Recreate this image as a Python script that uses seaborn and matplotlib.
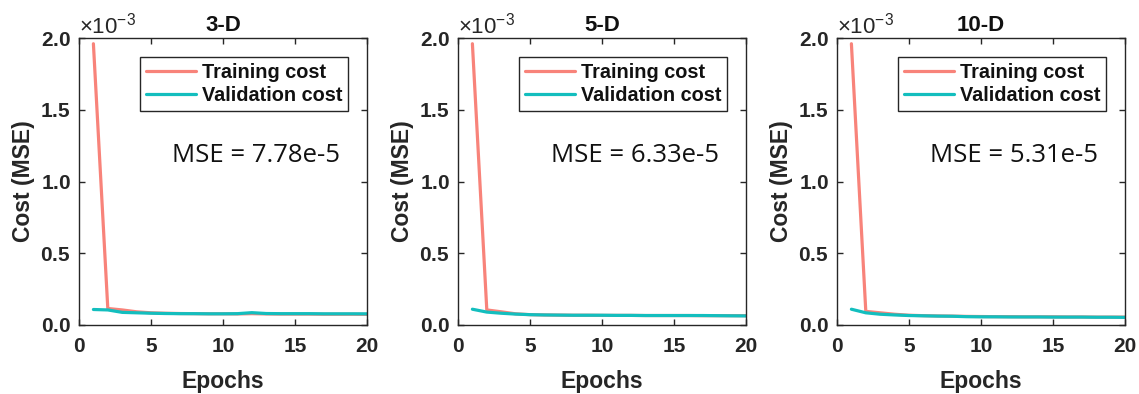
import numpy as np
import pandas as pd
import matplotlib
matplotlib.use("Agg")
import matplotlib.pyplot as plt
from matplotlib.ticker import ScalarFormatter
import seaborn as sns

# Cost values per epoch, in units of 1e-3
epochs = list(range(1, 21))
panel_titles = ["3-D", "5-D", "10-D"]
mse_labels = ["MSE = 7.78e-5", "MSE = 6.33e-5", "MSE = 5.31e-5"]

train_3d = [1.96, 0.115, 0.105, 0.092, 0.085, 0.082, 0.080, 0.079, 0.078, 0.078,
            0.077, 0.079, 0.077, 0.076, 0.076, 0.076, 0.075, 0.075, 0.075, 0.074]
valid_3d = [0.108, 0.105, 0.088, 0.085, 0.082, 0.080, 0.079, 0.079, 0.078, 0.078,
            0.079, 0.086, 0.080, 0.079, 0.079, 0.079, 0.078, 0.078, 0.078, 0.0778]

train_5d = [1.96, 0.105, 0.092, 0.078, 0.072, 0.070, 0.069, 0.068, 0.068, 0.067,
            0.067, 0.067, 0.066, 0.066, 0.066, 0.066, 0.065, 0.065, 0.065, 0.065]
valid_5d = [0.110, 0.090, 0.082, 0.076, 0.072, 0.070, 0.069, 0.068, 0.068, 0.068,
            0.067, 0.067, 0.066, 0.066, 0.066, 0.066, 0.066, 0.065, 0.064, 0.0633]

train_10d = [1.96, 0.095, 0.085, 0.075, 0.068, 0.065, 0.063, 0.062, 0.060, 0.059,
             0.058, 0.058, 0.057, 0.057, 0.057, 0.056, 0.056, 0.055, 0.055, 0.055]
valid_10d = [0.110, 0.085, 0.075, 0.070, 0.066, 0.064, 0.062, 0.061, 0.058, 0.057,
             0.057, 0.056, 0.056, 0.056, 0.055, 0.055, 0.055, 0.054, 0.054, 0.0531]

series = [(train_3d, valid_3d), (train_5d, valid_5d), (train_10d, valid_10d)]
cost_names = ["Training cost", "Validation cost"]
palette = {"Training cost": "#F8837A", "Validation cost": "#13BEBE"}
scale = 1e-3

sns.set_theme(style="white")
plt.rcParams["font.family"] = ["Liberation Sans", "DejaVu Sans"]
plt.rcParams["mathtext.fontset"] = "custom"
plt.rcParams["mathtext.rm"] = "Liberation Sans"
plt.rcParams["mathtext.it"] = "Liberation Sans:italic"
plt.rcParams["mathtext.bf"] = "Liberation Sans:bold"

fig = plt.figure(figsize=(11.39, 3.94), dpi=100)
W, H = 1139, 394
lefts = [79, 458, 837]
ax_w, ax_top, ax_bot = 288, 38, 325

for i, (left, (tr, va)) in enumerate(zip(lefts, series)):
    ax = fig.add_axes([left / W, 1 - ax_bot / H, ax_w / W, (ax_bot - ax_top) / H])
    df = pd.DataFrame({
        "Epochs": epochs * 2,
        "Cost": np.array(tr + va) * scale,
        "Series": [cost_names[0]] * len(tr) + [cost_names[1]] * len(va),
    })
    sns.lineplot(data=df, x="Epochs", y="Cost", hue="Series", hue_order=cost_names,
                 palette=palette, linewidth=2.3, ax=ax)
    ax.set_xlim(0, 20)
    ax.set_ylim(0, 2e-3)
    ax.set_xticks([0, 5, 10, 15, 20])
    ax.set_yticks(np.arange(0, 2.01e-3, 0.5e-3))
    fmt = ScalarFormatter(useMathText=True)
    fmt.set_powerlimits((-2, 2))
    ax.yaxis.set_major_formatter(fmt)
    off = ax.yaxis.get_offset_text()
    off.set_fontsize(16)
    off.set_fontweight("normal")
    off.set_color("#262626")

    for s in ax.spines.values():
        s.set_color("#262626")
        s.set_linewidth(1.0)
    ax.tick_params(direction="in", length=4, width=1, top=True, right=True,
                   bottom=True, left=True, labelsize=15, colors="#262626")
    ax.tick_params(axis="x", pad=9)
    ax.tick_params(axis="y", pad=6)
    for lab in ax.get_xticklabels() + ax.get_yticklabels():
        lab.set_fontweight("bold")

    ax.set_xlabel("Epochs", fontsize=16.5, fontweight="bold", color="#262626", labelpad=10)
    ax.set_ylabel("Cost (MSE)", fontsize=16.5, fontweight="bold", color="#262626", labelpad=4)
    ax.set_title(panel_titles[i], fontsize=16, fontweight="bold", color="#111111", pad=5)

    leg = ax.legend(loc="upper right", bbox_to_anchor=(1 - 19 / 288, 1 - 19 / 287),
                    borderaxespad=0, frameon=True, fancybox=False, handlelength=2.5,
                    prop={"weight": "bold", "size": 14.3}, borderpad=0.3,
                    labelspacing=0.22, handletextpad=0.3)
    leg.get_frame().set_edgecolor("#262626")
    leg.get_frame().set_linewidth(1.0)
    leg.get_frame().set_alpha(1)
    for t in leg.get_texts():
        t.set_color("#111111")

    ax.text((172 - 79) / 288, (325 - 155) / 287, mse_labels[i], transform=ax.transAxes,
            fontsize=18.5, family=["Open Sans", "DejaVu Sans"], color="#111111",
            ha="left", va="center")

fig.savefig("out.png", dpi=100)
